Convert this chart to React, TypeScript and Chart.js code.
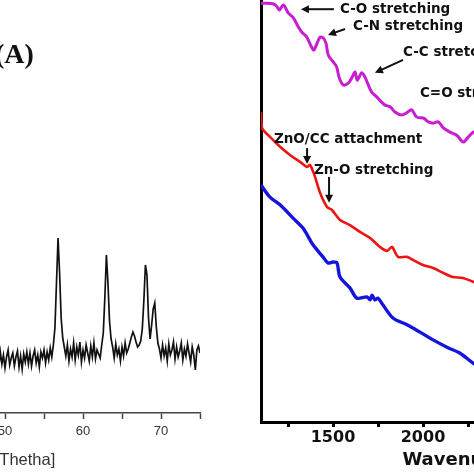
import React, { useEffect, useRef } from "react";
import { Chart, registerables } from "chart.js";

Chart.register(...registerables);

// ---------- Panel (A): XRD pattern ----------
const XRD_START = 49.0;
const XRD_STEP = 0.2;
const XRD_COUNTS = [
  54, 46, 61, 49, 58, 45, 56, 63, 48, 55,
  60, 47, 56, 62, 46, 57, 44, 59, 51, 61,
  49, 60, 47, 57, 63, 50, 58, 46, 61, 55,
  63, 50, 61, 53, 65, 56, 68, 85, 130, 175,
  140, 95, 75, 66, 57, 68, 52, 64, 56, 70,
  53, 66, 58, 71, 51, 63, 55, 68, 60, 52,
  67, 56, 70, 54, 63, 59, 55, 68, 80, 115,
  158, 130, 92, 74, 66, 55, 69, 58, 64, 52,
  66, 57, 70, 60, 64, 70, 76, 81, 77, 71,
  66, 68, 72, 84, 112, 148, 138, 95, 74, 88,
  104, 110, 86, 70, 64, 55, 68, 57, 65, 52,
  69, 58, 63, 71, 54, 66, 56, 62, 70, 53,
  64, 57, 69, 60, 51, 66, 58, 43, 63, 67,
  60,
];
const XRD_ANGLES = XRD_COUNTS.map((_, i) => +(XRD_START + i * XRD_STEP).toFixed(1));
const XRD_TICKS = [20, 25, 30, 35, 40, 45, 50, 55, 60, 65, 70, 75];
const XRD_X_TITLE = "Position [°2Thetha]";
const PANEL_LABEL = "(A)";

// ---------- Panel (B): FTIR spectra ----------
const MAGENTA_SPECTRUM: [number, number][] = [
  [1100, 97.4], [1131, 97.4], [1169, 97.2], [1187, 96.7], [1202, 95.8], [1224, 97.0],
  [1252, 95.1], [1280, 94.0], [1307, 91.9], [1326, 90.7], [1354, 89.5], [1381, 87.2],
  [1394, 86.5], [1428, 89.5], [1446, 89.3], [1461, 88.1], [1474, 85.3], [1502, 83.7],
  [1520, 82.6], [1535, 80.0], [1557, 78.4], [1585, 78.8], [1604, 80.0], [1622, 81.4],
  [1635, 79.5], [1659, 81.2], [1678, 80.2], [1696, 78.4], [1715, 76.7], [1743, 75.6],
  [1770, 74.4], [1789, 73.7], [1817, 73.3], [1844, 72.1], [1881, 71.4], [1909, 71.9],
  [1937, 72.6], [1965, 70.9], [2002, 70.7], [2030, 69.8], [2057, 69.5], [2085, 69.8],
  [2113, 68.4], [2150, 67.4], [2187, 66.7], [2224, 65.1], [2252, 66.3], [2280, 67.4],
  [2320, 67.8], [2400, 66.5],
];
const RED_SPECTRUM: [number, number][] = [
  [1100, 72.1], [1106, 68.4], [1150, 66.3], [1206, 64.0], [1261, 62.1], [1317, 60.5],
  [1356, 59.3], [1372, 59.8], [1400, 57.0], [1428, 53.3], [1467, 50.0], [1494, 49.3],
  [1539, 47.0], [1594, 45.8], [1650, 44.2], [1706, 42.8], [1761, 40.7], [1800, 39.8],
  [1828, 40.7], [1861, 38.4], [1911, 38.4], [1944, 37.7], [2000, 36.5], [2056, 35.8],
  [2111, 34.7], [2167, 33.7], [2222, 33.5], [2278, 32.6], [2350, 31.5],
];
const BLUE_SPECTRUM: [number, number][] = [
  [1100, 55.1], [1150, 52.3], [1206, 50.5], [1278, 47.4], [1333, 45.1], [1389, 41.2],
  [1444, 38.4], [1472, 37.0], [1500, 37.2], [1522, 37.0], [1539, 33.7], [1594, 31.2],
  [1633, 28.8], [1689, 29.1], [1706, 28.4], [1717, 29.5], [1733, 28.4], [1750, 28.8],
  [1778, 27.2], [1833, 24.2], [1911, 22.6], [1983, 20.9], [2056, 19.1], [2133, 17.4],
  [2206, 16.0], [2278, 13.7], [2350, 12.0],
];
const FTIR_TICKS = [1250, 1500, 1750, 2000, 2250, 2500, 2750, 3000, 3250, 3500, 3750];
const FTIR_X_TITLE = "Wavenumber (cm⁻¹)";

type Note = { text: string; at: [number, number]; arrow?: [[number, number], [number, number]] };
const FTIR_NOTES: Note[] = [
  { text: "C-O stretching", at: [1539, 96.0], arrow: [[1505, 96.0], [1322, 96.0]] },
  { text: "C-N stretching", at: [1611, 91.9], arrow: [[1567, 91.4], [1472, 90.0]] },
  { text: "C-C stretching", at: [1889, 86.0], arrow: [[1889, 84.2], [1733, 81.2]] },
  { text: "C=O stretching", at: [1983, 76.3] },
  { text: "ZnO/CC attachment", at: [1172, 65.8], arrow: [[1356, 63.7], [1356, 60.0]] },
  { text: "Zn-O stretching", at: [1394, 58.6], arrow: [[1478, 57.0], [1478, 51.0]] },
];

const panelLabelPlugin = {
  id: "panelLabel",
  afterDraw(chart: any) {
    const ctx = chart.ctx;
    ctx.save();
    ctx.fillStyle = "#111";
    ctx.font = 'bold 28px "Liberation Serif", "Times New Roman", serif';
    ctx.textBaseline = "alphabetic";
    ctx.textAlign = "left";
    // canvas sits 300px left of the page
    ctx.fillText(PANEL_LABEL, 295, 63);
    ctx.restore();
  },
};

const notesPlugin = {
  id: "ftirNotes",
  afterDatasetsDraw(chart: any) {
    const { ctx, scales } = chart;
    const px = (p: [number, number]) => [scales.x.getPixelForValue(p[0]), scales.y.getPixelForValue(p[1])];
    ctx.save();
    ctx.fillStyle = "#111";
    ctx.strokeStyle = "#111";
    ctx.font = 'bold 13.5px "DejaVu Sans", Verdana, sans-serif';
    ctx.textBaseline = "middle";
    ctx.textAlign = "left";
    for (const n of FTIR_NOTES) {
      const [tx, ty] = px(n.at);
      ctx.fillText(n.text, tx, ty);
      if (n.arrow) {
        const [x1, y1] = px(n.arrow[0]);
        const [x2, y2] = px(n.arrow[1]);
        const ang = Math.atan2(y2 - y1, x2 - x1);
        const head = 8;
        ctx.lineWidth = 2;
        ctx.beginPath();
        ctx.moveTo(x1, y1);
        ctx.lineTo(x2 - Math.cos(ang) * head * 0.8, y2 - Math.sin(ang) * head * 0.8);
        ctx.stroke();
        ctx.beginPath();
        ctx.moveTo(x2, y2);
        ctx.lineTo(x2 - Math.cos(ang) * head - Math.sin(ang) * 4, y2 - Math.sin(ang) * head + Math.cos(ang) * 4);
        ctx.lineTo(x2 - Math.cos(ang) * head + Math.sin(ang) * 4, y2 - Math.sin(ang) * head - Math.cos(ang) * 4);
        ctx.closePath();
        ctx.fill();
      }
    }
    ctx.restore();
  },
};

function XrdPanel() {
  const ref = useRef<HTMLCanvasElement>(null);
  useEffect(() => {
    const chart = new Chart(ref.current!, {
      type: "line",
      data: {
        datasets: [
          {
            data: XRD_ANGLES.map((a, i) => ({ x: a, y: XRD_COUNTS[i] })),
            borderColor: "#111",
            borderWidth: 1.7,
            pointRadius: 0,
            tension: 0,
          },
        ],
      },
      options: {
        animation: false,
        responsive: false,
        events: [],
        layout: { padding: { left: 71, right: 10, top: 20, bottom: 0 } },
        plugins: { legend: { display: false }, tooltip: { enabled: false } },
        scales: {
          x: {
            type: "linear",
            min: 20,
            max: 75,
            afterFit: (s: any) => { s.height = 61; },
            afterBuildTicks: (s: any) => { s.ticks = XRD_TICKS.map((v) => ({ value: v })); },
            ticks: {
              autoSkip: false,
              maxRotation: 0,
              padding: 5,
              color: "#333",
              font: { family: '"Liberation Sans", Arial, sans-serif', size: 13 },
              callback: (v: any) => (Number(v) % 10 === 0 ? String(v) : ""),
            },
            grid: { drawOnChartArea: false, drawTicks: true, tickLength: 6, tickColor: "#444", tickWidth: 1.5 },
            border: { display: true, color: "#444", width: 1.5 },
            title: {
              display: true,
              text: XRD_X_TITLE,
              color: "#333",
              font: { family: '"Liberation Sans", Arial, sans-serif', size: 16.5 },
              padding: { top: 4, bottom: 4 },
            },
          },
          y: { display: false, min: 0, max: 393 },
        },
      },
      plugins: [panelLabelPlugin],
    } as any);
    return () => chart.destroy();
  }, []);
  return (
    <canvas
      ref={ref}
      width={510}
      height={474}
      style={{ position: "absolute", left: -300, top: 0, width: 510, height: 474 }}
    />
  );
}

function FtirPanel() {
  const ref = useRef<HTMLCanvasElement>(null);
  useEffect(() => {
    const mk = (d: [number, number][], color: string, w: number) => ({
      data: d.map(([x, y]) => ({ x, y })),
      borderColor: color,
      borderWidth: w,
      pointRadius: 0,
      tension: 0.3,
    });
    const chart = new Chart(ref.current!, {
      type: "line",
      data: {
        datasets: [
          mk(MAGENTA_SPECTRUM, "#c81ed2", 3),
          mk(RED_SPECTRUM, "#ee1414", 2.6),
          mk(BLUE_SPECTRUM, "#1414dc", 3.4),
        ],
      },
      options: {
        animation: false,
        responsive: false,
        events: [],
        layout: { padding: { left: 61, right: 13, top: 22, bottom: 0 } },
        plugins: { legend: { display: false }, tooltip: { enabled: false } },
        scales: {
          x: {
            type: "linear",
            min: 1100,
            max: 3800,
            afterFit: (s: any) => { s.height = 52; },
            afterBuildTicks: (s: any) => { s.ticks = FTIR_TICKS.map((v) => ({ value: v })); },
            ticks: {
              autoSkip: false,
              maxRotation: 0,
              padding: 1,
              color: "#111",
              font: { family: '"DejaVu Sans", Verdana, sans-serif', size: 16, weight: "bold" },
              callback: (v: any) => (Number(v) % 500 === 0 ? String(v) : ""),
            },
            grid: { drawOnChartArea: false, drawTicks: true, tickLength: 5, tickColor: "#000", tickWidth: 3 },
            border: { display: true, color: "#000", width: 3 },
            title: {
              display: true,
              text: FTIR_X_TITLE,
              color: "#111",
              font: { family: '"DejaVu Sans", Verdana, sans-serif', size: 18, weight: "bold" },
              padding: { top: 2, bottom: 3 },
            },
          },
          y: {
            min: 0,
            max: 100,
            afterFit: (s: any) => { s.width = 0; },
            ticks: { display: false },
            grid: { drawOnChartArea: false, drawTicks: false },
            border: { display: true, color: "#000", width: 3 },
          },
        },
      },
      plugins: [notesPlugin],
    } as any);
    return () => chart.destroy();
  }, []);
  return (
    <canvas
      ref={ref}
      width={560}
      height={504}
      style={{ position: "absolute", left: 200, top: -30, width: 560, height: 504 }}
    />
  );
}

export default function App() {
  return (
    <div
      style={{
        position: "fixed",
        left: 0,
        top: 0,
        width: 474,
        height: 474,
        overflow: "hidden",
        background: "#fff",
      }}
    >
      <XrdPanel />
      <FtirPanel />
    </div>
  );
}
